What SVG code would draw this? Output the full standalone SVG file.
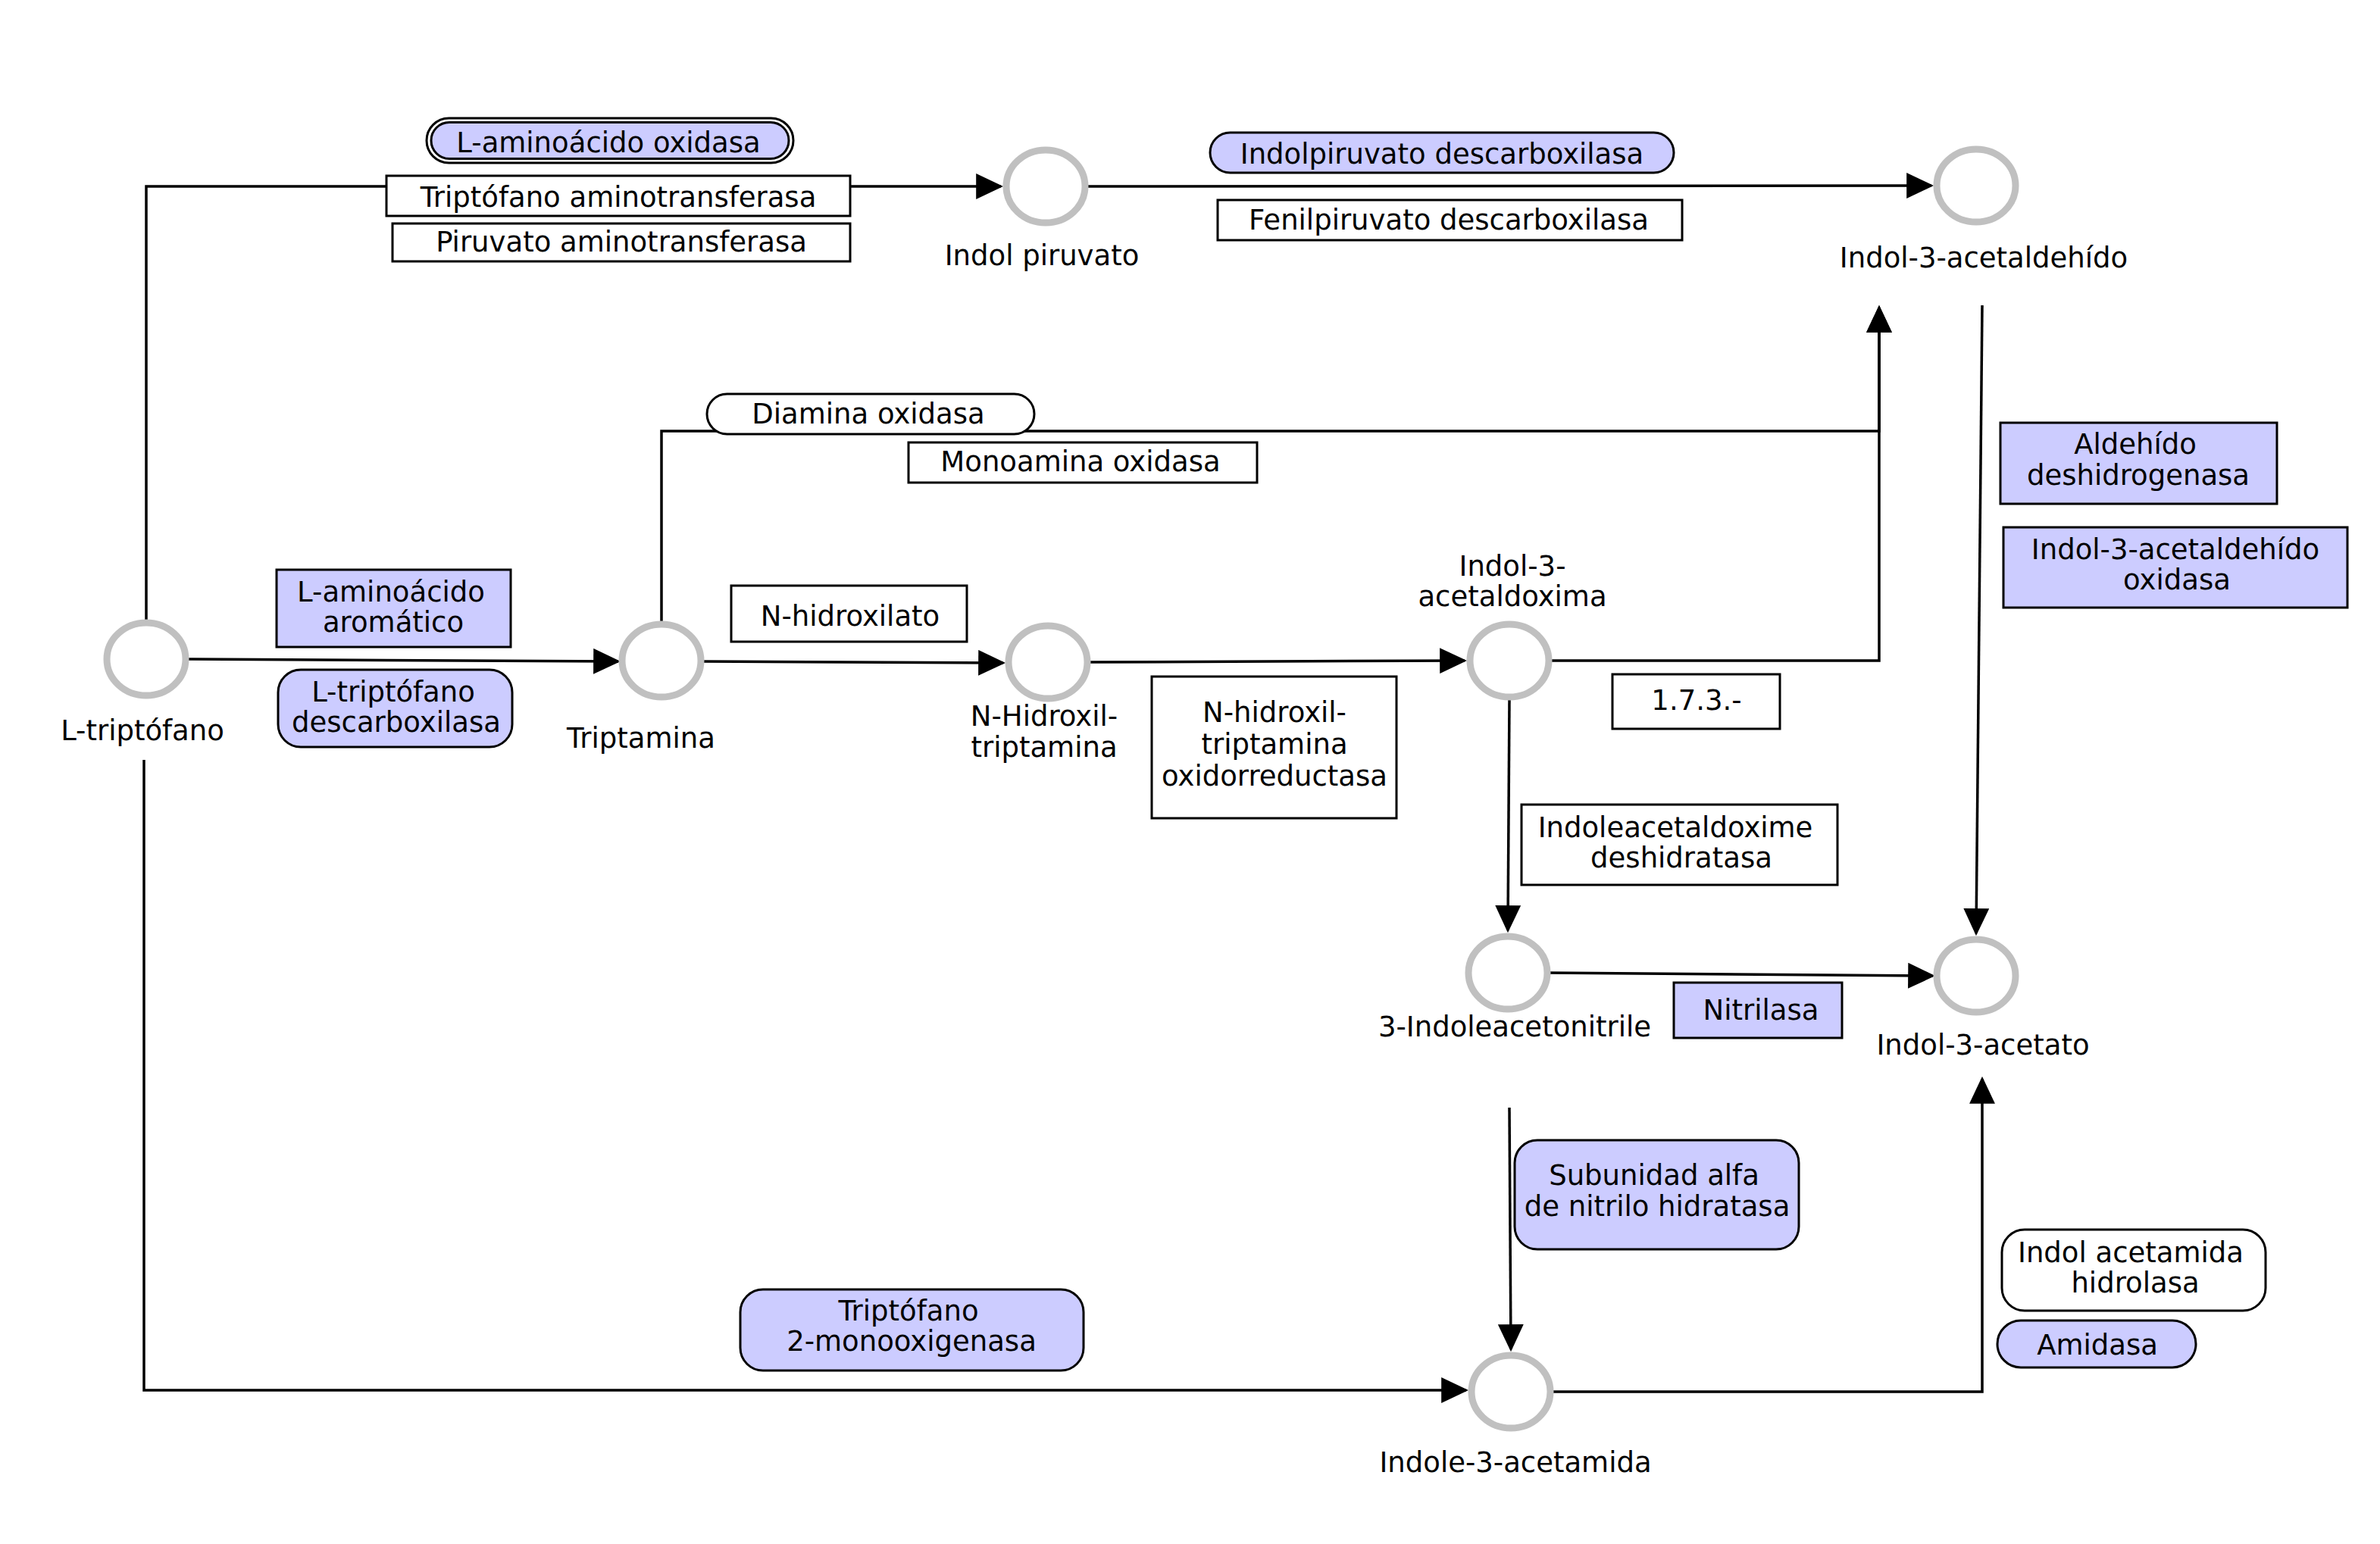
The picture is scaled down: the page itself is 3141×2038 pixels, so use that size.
<svg xmlns="http://www.w3.org/2000/svg" width="3141" height="2038" viewBox="0 0 3141 2038">
<style>
text{font-family:"DejaVu Sans","Liberation Sans",sans-serif;font-size:37px;fill:#000;text-anchor:middle}
.met{fill:#fff;stroke:#c0c0c0;stroke-width:9}
.enz{stroke:#000;stroke-width:3}
.w{fill:#fff}
.p{fill:#ccccff}
.edge{fill:none;stroke:#000;stroke-width:3.5}
</style>
<defs>
<marker id="arr" markerUnits="userSpaceOnUse" markerWidth="36" markerHeight="34" viewBox="0 0 34 32" refX="31" refY="16" orient="auto">
<path d="M0,0 L34,16 L0,32 z" fill="#000"/>
</marker>
</defs>
<rect width="3141" height="2038" fill="#fff"/>
<g id="connectors">
<path class="edge" d="M193,822 V246 H1321" marker-end="url(#arr)"/>
<path class="edge" d="M873,824 V569 H2480 V406" marker-end="url(#arr)"/>
<path class="edge" d="M2044,872 H2480 V406" marker-end="url(#arr)"/>
<path class="edge" d="M245,870 L816,873" marker-end="url(#arr)"/>
<path class="edge" d="M925,873 L1324,875" marker-end="url(#arr)"/>
<path class="edge" d="M1435,874 L1933,872" marker-end="url(#arr)"/>
<path class="edge" d="M1432,246 L2549,245" marker-end="url(#arr)"/>
<path class="edge" d="M2616,403 L2608,1232" marker-end="url(#arr)"/>
<path class="edge" d="M1992,924 L1990,1228" marker-end="url(#arr)"/>
<path class="edge" d="M2042,1284 L2551,1288" marker-end="url(#arr)"/>
<path class="edge" d="M1992,1462 L1994,1781" marker-end="url(#arr)"/>
<path class="edge" d="M2046,1837 H2616 V1424" marker-end="url(#arr)"/>
<path class="edge" d="M190,1003 V1835 H1935" marker-end="url(#arr)"/>
</g>
<g id="n-ltriptofano"><ellipse class="met" cx="193" cy="870" rx="52" ry="48"/><text x="188" y="977">L-triptófano</text></g>
<g id="n-triptamina"><ellipse class="met" cx="873" cy="872" rx="52" ry="48"/><text x="846" y="987">Triptamina</text></g>
<g id="n-indolpiruvato"><ellipse class="met" cx="1380" cy="246" rx="52" ry="48"/><text x="1375" y="350">Indol piruvato</text></g>
<g id="n-nhidroxiltriptamina"><ellipse class="met" cx="1383" cy="874" rx="52" ry="48"/><text x="1378" y="958">N-Hidroxil-</text><text x="1378" y="999">triptamina</text></g>
<g id="n-acetaldoxima"><ellipse class="met" cx="1992" cy="872" rx="52" ry="48"/><text x="1996" y="760">Indol-3-</text><text x="1996" y="800">acetaldoxima</text></g>
<g id="n-acetaldehido"><ellipse class="met" cx="2608" cy="245" rx="52" ry="48"/><text x="2618" y="353">Indol-3-acetaldehído</text></g>
<g id="n-acetonitrile"><ellipse class="met" cx="1990" cy="1284" rx="52" ry="48"/><text x="1999" y="1368">3-Indoleacetonitrile</text></g>
<g id="n-acetato"><ellipse class="met" cx="2608" cy="1288" rx="52" ry="48"/><text x="2617" y="1392">Indol-3-acetato</text></g>
<g id="n-acetamida"><ellipse class="met" cx="1994" cy="1837" rx="52" ry="48"/><text x="2000" y="1943">Indole-3-acetamida</text></g>
<g id="e-laminoacidooxidasa"><rect class="enz w" x="563" y="156" width="484" height="59" rx="29.5"/><rect class="enz p" x="569" y="161.5" width="472" height="48" rx="24" stroke-width="2.5"/><text x="803" y="201">L-aminoácido oxidasa</text></g>
<g id="e-triptofanoaminotransferasa"><rect class="enz w" x="510" y="232" width="612" height="53"/><text x="816" y="273">Triptófano aminotransferasa</text></g>
<g id="e-piruvatoaminotransferasa"><rect class="enz w" x="518" y="295" width="604" height="50"/><text x="820" y="332">Piruvato aminotransferasa</text></g>
<g id="e-indolpiruvatodescarboxilasa"><rect class="enz p" x="1597" y="175" width="612" height="53" rx="26.5"/><text x="1903" y="216">Indolpiruvato descarboxilasa</text></g>
<g id="e-fenilpiruvatodescarboxilasa"><rect class="enz w" x="1607" y="264" width="613" height="53"/><text x="1912" y="303">Fenilpiruvato descarboxilasa</text></g>
<g id="e-diaminaoxidasa"><rect class="enz w" x="933" y="520" width="432" height="53" rx="26.5"/><text x="1146" y="559">Diamina oxidasa</text></g>
<g id="e-monoaminaoxidasa"><rect class="enz w" x="1199" y="584" width="460" height="53"/><text x="1426" y="622">Monoamina oxidasa</text></g>
<g id="e-laminoacidoaromatico"><rect class="enz p" x="365" y="752" width="309" height="102"/><text x="516" y="794">L-aminoácido</text><text x="519" y="834">aromático</text></g>
<g id="e-ltriptofanodescarboxilasa"><rect class="enz p" x="367" y="884" width="309" height="102" rx="30"/><text x="519" y="926">L-triptófano</text><text x="523" y="966">descarboxilasa</text></g>
<g id="e-nhidroxilato"><rect class="enz w" x="965" y="773" width="311" height="74"/><text x="1122" y="826">N-hidroxilato</text></g>
<g id="e-oxidorreductasa"><rect class="enz w" x="1520" y="893" width="323" height="187"/><text x="1682" y="953">N-hidroxil-</text><text x="1682" y="995">triptamina</text><text x="1682" y="1037">oxidorreductasa</text></g>
<g id="e-173"><rect class="enz w" x="2128" y="890" width="221" height="72"/><text x="2239" y="937">1.7.3.-</text></g>
<g id="e-aldehidodeshidrogenasa"><rect class="enz p" x="2640" y="558" width="365" height="107"/><text x="2818" y="599">Aldehído</text><text x="2822" y="640">deshidrogenasa</text></g>
<g id="e-acetaldehidooxidasa"><rect class="enz p" x="2644" y="696" width="454" height="106"/><text x="2871" y="738">Indol-3-acetaldehído</text><text x="2873" y="778">oxidasa</text></g>
<g id="e-deshidratasa"><rect class="enz w" x="2008" y="1062" width="417" height="106"/><text x="2211" y="1105">Indoleacetaldoxime</text><text x="2219" y="1145">deshidratasa</text></g>
<g id="e-nitrilasa"><rect class="enz p" x="2209" y="1297" width="222" height="73"/><text x="2324" y="1346">Nitrilasa</text></g>
<g id="e-nitrilohidratasa"><rect class="enz p" x="1999" y="1505" width="375" height="144" rx="30"/><text x="2183" y="1564">Subunidad alfa</text><text x="2187" y="1605">de nitrilo hidratasa</text></g>
<g id="e-acetamidahidrolasa"><rect class="enz w" x="2642" y="1623" width="348" height="107" rx="30"/><text x="2812" y="1666">Indol acetamida</text><text x="2818" y="1706">hidrolasa</text></g>
<g id="e-amidasa"><rect class="enz p" x="2636" y="1743" width="262" height="62" rx="31"/><text x="2768" y="1788">Amidasa</text></g>
<g id="e-monooxigenasa"><rect class="enz p" x="977" y="1702" width="453" height="107" rx="30"/><text x="1199" y="1743">Triptófano</text><text x="1203" y="1783">2-monooxigenasa</text></g>
</svg>
